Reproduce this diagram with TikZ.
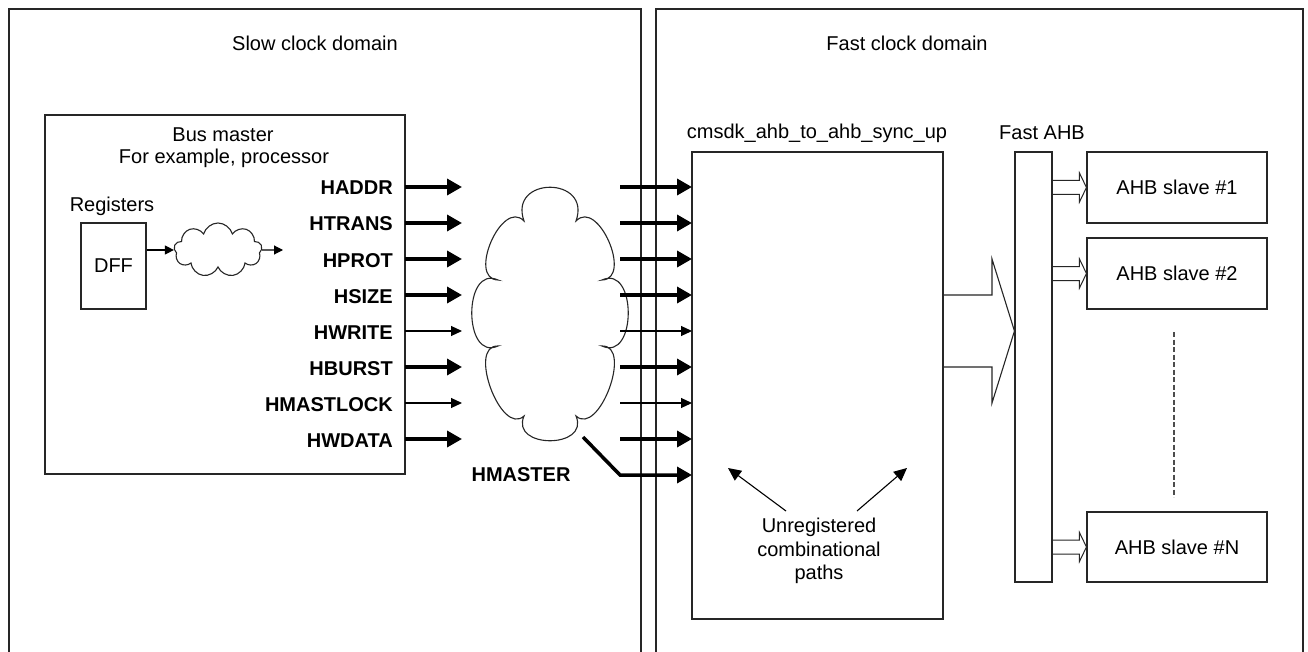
\documentclass[tikz,border=0pt]{standalone}
\usepackage{fontspec}
\setmainfont{Liberation Sans}
\usetikzlibrary{arrows.meta,shapes.symbols,calc}
\begin{document}
\begin{tikzpicture}[x=1pt,y=-1pt,
  box/.style={draw=black!85, line width=1.1pt},
  lbl/.style={font=\fontsize{20}{24}\selectfont, inner sep=0pt},
  sig/.style={font=\bfseries\fontsize{20}{24}\selectfont, inner sep=0pt, anchor=base east},
  thickarr/.style={line width=3.5pt, -{Triangle[length=15pt,width=16pt]}},
  thinarr/.style={line width=1.1pt, -{Triangle[length=11pt,width=10pt]}},
  smallarr/.style={line width=1.1pt, -{Triangle[length=9pt,width=9pt]}},
  notearr/.style={line width=1.1pt, -{Triangle[length=13pt,width=12pt]}}
]
\useasboundingbox (0,0) rectangle (1308,652);
\fill[white] (0,0) rectangle (1308,652);

% clock domains (open at the bottom)
\draw[box] (9,652) -- (9,9) -- (641,9) -- (641,652);
\draw[box] (656,652) -- (656,9) -- (1303,9) -- (1303,652);
\node[lbl, anchor=base] (slowt) at (315,51) {Slow clock domain};
\node[lbl, anchor=base] (fastt) at (907,51) {Fast clock domain};

% bus master
\node[box, minimum width=360pt, minimum height=359pt] (bm) at (225,294.5) {};
\node[lbl, anchor=base] (bmt1) at (223,142) {Bus master};
\node[lbl, anchor=base] (bmt2) at (224,164) {For example, processor};
\node[lbl, anchor=base] (regt) at (112,212) {Registers};
\node[box, lbl, minimum width=65pt, minimum height=86pt] (dff) at (113.5,266) {DFF};
\node[cloud, box, cloud puffs=9, aspect=1.7, minimum width=88pt, minimum height=54pt, inner sep=0pt] (sc) at (218,250) {};
\coordinate (sce) at (283,250);
\draw[smallarr] (dff.east |- sc.west) -- (sc.west);
\draw[smallarr] (sc.east) -- (sce);

% big cloud
\draw[box] (524,221) .. controls (508,176) and (592,176) .. (576,221)
  .. controls (598,198) and (633,279) .. (602,280)
  .. controls (637,264) and (637,362) .. (602,346)
  .. controls (633,345) and (599,437) .. (576,416)
  .. controls (590,449) and (510,449) .. (524,416)
  .. controls (501,437) and (467,345) .. (498,346)
  .. controls (463,362) and (463,264) .. (498,280)
  .. controls (467,279) and (502,198) .. cycle;

% cmsdk block
\node[box, minimum width=251pt, minimum height=467pt] (cm) at (817.5,385.5) {};
\node[lbl, anchor=base] (cmt) at (817,139) {cmsdk\_ahb\_to\_ahb\_sync\_up};

% signals
\foreach \n/\y/\s in {HADDR/187/thickarr, HTRANS/223/thickarr, HPROT/259/thickarr,
  HSIZE/295/thickarr, HWRITE/331/thinarr, HBURST/367/thickarr,
  HMASTLOCK/403/thinarr, HWDATA/439/thickarr}{
  \node[sig] (l\n) at (393,\y+8) {\n};
  \coordinate (a\n) at (405,\y);
  \coordinate (b\n) at (462,\y);
  \draw[\s] (a\n) -- (b\n);
  \coordinate (c\n) at (620,\y);
  \coordinate (d\n) at (692,\y);
  \draw[\s] (c\n) -- (d\n);
}
\node[sig, anchor=base] (lHMASTER) at (521,481) {HMASTER};
\coordinate (m0) at (583,437);
\coordinate (m1) at (620,475);
\coordinate (m2) at (692,475);
\draw[thickarr] (m0) -- (m1) -- (m2);

% unregistered paths note
\node[lbl, anchor=base] (u1) at (819,532) {Unregistered};
\node[lbl, anchor=base] (u2) at (819,556) {combinational};
\node[lbl, anchor=base] (u3) at (819,579) {paths};
\coordinate (ua) at (786,511);
\coordinate (ub) at (728,468);
\coordinate (uc) at (857,511);
\coordinate (ud) at (907,468);
\draw[notearr] (ua) -- (ub);
\draw[notearr] (uc) -- (ud);

% fast AHB
\node[box, minimum width=37pt, minimum height=430pt] (bar) at (1033.5,367) {};
\node[lbl, anchor=base] (bart) at (1042,140) {Fast AHB};
\draw[box] (cm.east |- 0,295) -- (992,295) -- (992,259) -- (bar.west |- 0,331) -- (992,403) -- (992,367) -- (cm.east |- 0,367);

% slaves
\node[box, lbl, minimum width=180pt, minimum height=71pt] (s1) at (1177,187.5) {AHB slave \#1};
\node[box, lbl, minimum width=180pt, minimum height=71pt] (s2) at (1177,273.5) {AHB slave \#2};
\node[box, lbl, minimum width=180pt, minimum height=70pt] (sN) at (1177,547) {AHB slave \#N};
\foreach \s in {s1,s2,sN}{
  \draw[box, line width=1pt] ($(bar.east |- \s.west)+(0,-7)$) -- ($(\s.west)+(-7,-7)$)
    -- ($(\s.west)+(-7,-14.5)$) -- (\s.west) -- ($(\s.west)+(-7,14.5)$)
    -- ($(\s.west)+(-7,7)$) -- ($(bar.east |- \s.west)+(0,7)$);
}
\coordinate (dt) at (1174,332);
\coordinate (db) at (1174,497);
\draw[black!70, line width=1.1pt, dash pattern=on 5pt off 2.5pt] (dt) -- (db);
\end{tikzpicture}
\end{document}
